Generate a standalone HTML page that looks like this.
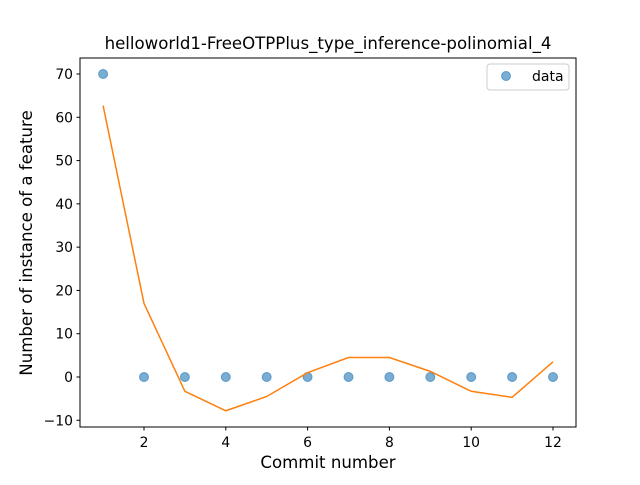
<!DOCTYPE html>
<html><head><meta charset="utf-8"><style>
body{margin:0;background:#fff;}
svg text{font-family:"DejaVu Sans","Liberation Sans",sans-serif;}
</style></head><body>
<svg id="chart" width="640" height="480" xmlns="http://www.w3.org/2000/svg">
<rect width="640" height="480" fill="#fff"/>
<text x="328" y="49" font-size="16.6" text-anchor="middle">helloworld1-FreeOTPPlus_type_inference-polinomial_4</text>
<g id="ticks"></g>
<g id="marks"></g>
<rect x="80" y="58" width="496" height="369" fill="none" stroke="#000" stroke-width="1"/>
<text x="328" y="468" font-size="16.6" text-anchor="middle">Commit number</text>
<text transform="translate(32,243) rotate(-90)" font-size="16.6" text-anchor="middle">Number of instance of a feature</text>
<g>
<rect x="487" y="64" width="82" height="26" rx="3" fill="#fff" stroke="#ccc"/>
<circle cx="506" cy="76" r="4.5" fill="#1f77b4" fill-opacity="0.6" stroke="#1f77b4" stroke-opacity="0.6"/>
<text x="532" y="81" font-size="14">data</text>
</g>
</svg>
<script>
const commits=[1,2,3,4,5,6,7,8,9,10,11,12];
const dataValues=[70,0,0,0,0,0,0,0,0,0,0,0];
const fitValues=[62.7,17,-3.3,-7.8,-4.5,1,4.5,4.5,1.3,-3.3,-4.7,3.5];
const xTicks=[2,4,6,8,10,12];
const yTicks=[-10,0,10,20,30,40,50,60,70];
const NS="http://www.w3.org/2000/svg";
function xs(v){return 103.1+(v-1)*40.9;}
function ys(v){return 377-v*4.3286;}
function mk(t,a,p){const e=document.createElementNS(NS,t);for(const k in a)e.setAttribute(k,a[k]);p.appendChild(e);return e;}
const tg=document.getElementById('ticks'),mg=document.getElementById('marks');
xTicks.forEach(v=>{const x=xs(v);
const l=mk('line',{x1:x,x2:x,y1:427,y2:430.5,stroke:'#000'},tg);


const t=mk('text',{x:x,y:447,'font-size':13.9,'text-anchor':'middle'},tg);t.textContent=v;

});
yTicks.forEach(v=>{const y=ys(v);
const l=mk('line',{x1:76.5,x2:80,y1:y,y2:y,stroke:'#000'},tg);


const t=mk('text',{x:73,y:y+5,'font-size':13.9,'text-anchor':'end'},tg);t.textContent=v<0?'\u2212'+(-v):v;

});
commits.forEach((c,i)=>{const p=mk('circle',{cx:xs(c),cy:ys(dataValues[i]),r:4.5,fill:'#1f77b4','fill-opacity':0.6,stroke:'#1f77b4','stroke-opacity':0.6},mg);

});
const pl=mk('polyline',{points:commits.map((c,i)=>xs(c)+','+ys(fitValues[i])).join(' '),fill:'none',stroke:'#ff7f0e','stroke-width':1.5},mg);


</script>
</body></html>
